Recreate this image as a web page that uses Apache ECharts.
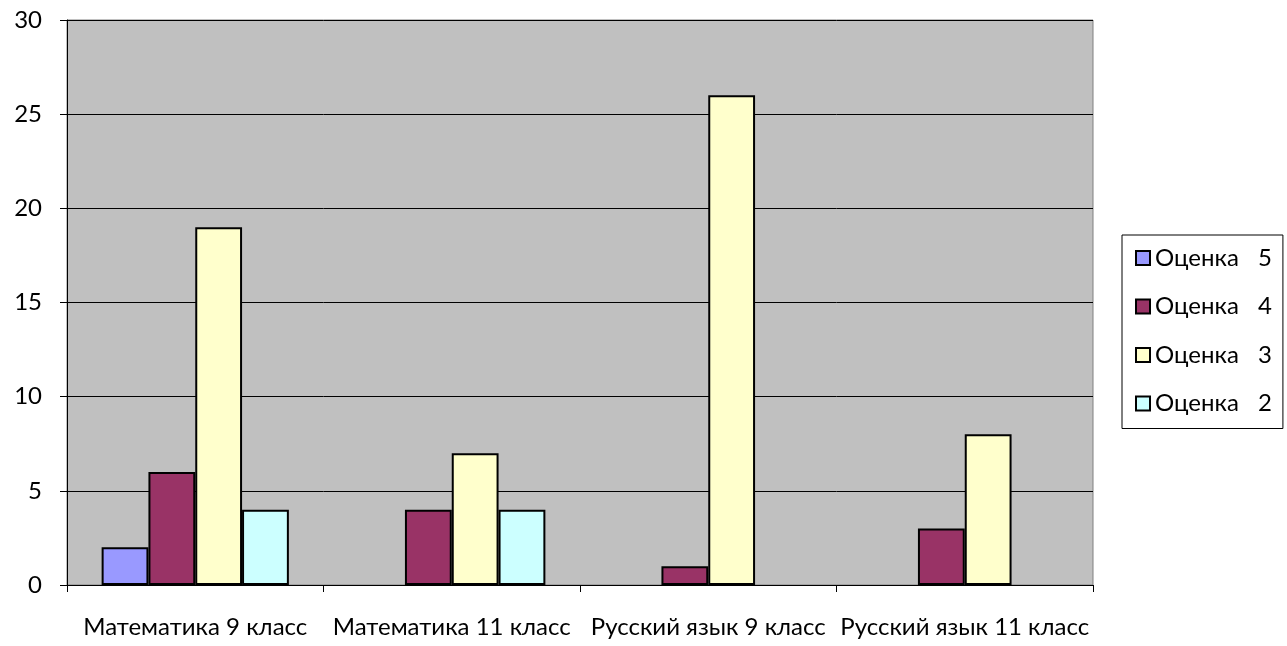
<!DOCTYPE html>
<html><head><meta charset="utf-8">
<script src="https://cdn.jsdelivr.net/npm/echarts@6/dist/echarts.min.js"></script>
<style>html,body{margin:0;padding:0;background:#fff}#c{width:1287px;height:646px}</style>
</head><body><div id="c"></div>
<script>
const categories = ['Математика 9 класс', 'Математика 11 класс', 'Русский язык 9 класс', 'Русский язык 11 класс'];
const seriesNames = ['Оценка 5', 'Оценка 4', 'Оценка 3', 'Оценка 2'];
const grade5 = [2, 0, 0, 0];
const grade4 = [6, 4, 1, 3];
const grade3 = [19, 7, 26, 8];
const grade2 = [4, 4, 0, 0];
const yTicks = [0, 5, 10, 15, 20, 25, 30];
const colors = ['#9999FF', '#993366', '#FFFFCC', '#CCFFFF'];
const values = [grade5, grade4, grade3, grade2];
const FONT = 'Lato';
const FS = 24;

const chart = echarts.init(document.getElementById('c'), null, {renderer: 'canvas'});
chart.setOption({
  animation: false,
  backgroundColor: '#ffffff',
  textStyle: {fontFamily: FONT, fontSize: FS},
  grid: {left: 67, right: 194, top: 20, bottom: 61, show: true, backgroundColor: '#C0C0C0', borderColor: '#808080', borderWidth: 1},
  legend: {
    orient: 'vertical', left: 1122, top: 235,
    backgroundColor: '#ffffff', borderColor: '#000000', borderWidth: 1,
    padding: [11, 11, 13, 13],
    itemWidth: 14, itemHeight: 14, itemGap: 24.5, itemTextGap: 7,
    icon: 'rect',
    itemStyle: {borderColor: '#000000', borderWidth: 2},
    data: seriesNames,
    formatter: n => { const p = n.split(' '); return '{a|' + p[0] + '}{b|' + p[1] + '}'; },
    textStyle: {fontFamily: FONT, fontSize: FS, color: '#000', lineHeight: 24,
      rich: {a: {fontFamily: FONT, fontSize: FS, width: 103, color: '#000', lineHeight: 24}, b: {fontFamily: FONT, fontSize: FS, color: '#000', lineHeight: 24}}}
  },
  xAxis: {
    type: 'category', data: categories, boundaryGap: true,
    axisLine: {show: true, lineStyle: {color: '#000', width: 1}},
    axisTick: {show: true, length: 7, interval: 0, alignWithLabel: false, lineStyle: {color: '#000'}},
    axisLabel: {interval: 0, margin: 30, fontFamily: FONT, fontSize: FS, color: '#000'},
    splitLine: {show: false}
  },
  yAxis: {
    type: 'value', min: yTicks[0], max: yTicks[yTicks.length - 1], interval: 5,
    axisLine: {show: true, lineStyle: {color: '#000', width: 1}},
    axisTick: {show: true, length: 7, lineStyle: {color: '#000'}},
    axisLabel: {margin: 25, fontFamily: FONT, fontSize: FS, color: '#000'},
    splitLine: {show: true, lineStyle: {color: '#000', width: 1}}
  },
  series: seriesNames.map((name, i) => ({
    name, type: 'bar', data: values[i].map(v => (v === 0 ? null : v)),
    barGap: '0%', barCategoryGap: '27%',
    itemStyle: {color: colors[i], borderColor: '#000', borderWidth: 2}
  }))
});
</script></body></html>
